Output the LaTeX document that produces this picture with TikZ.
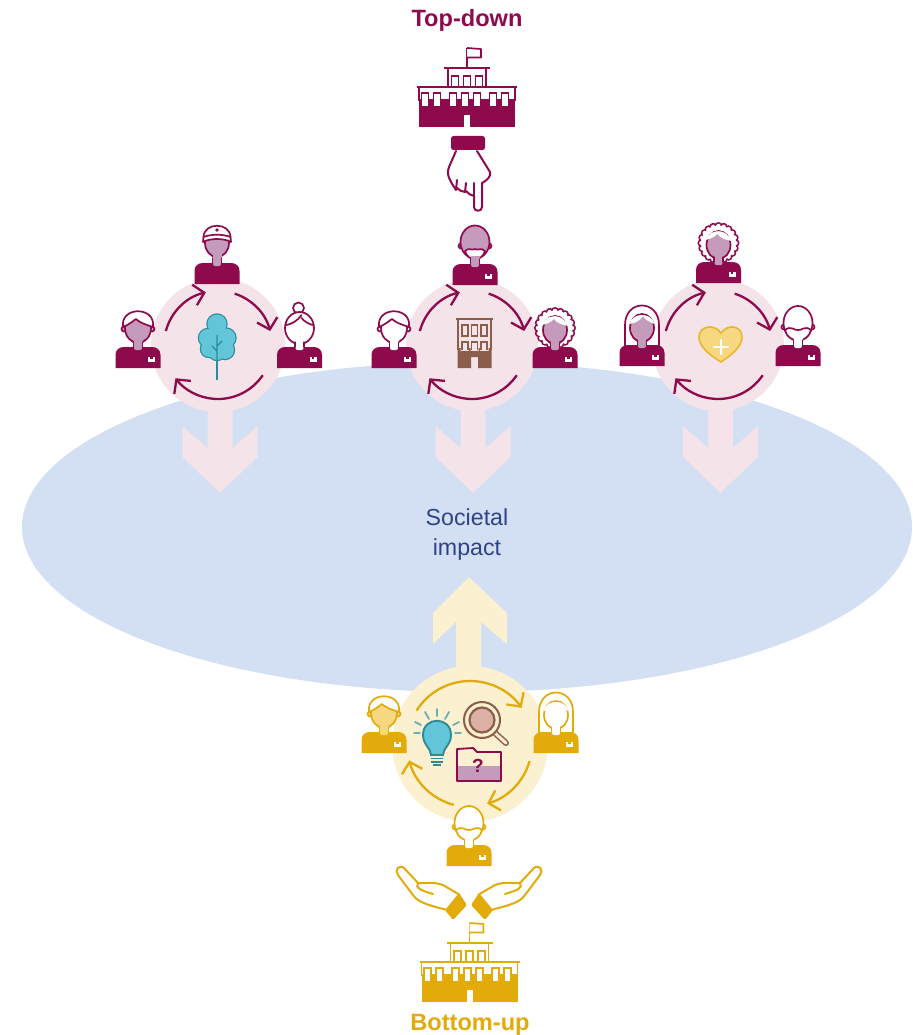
\documentclass[tikz,border=0pt]{standalone}
\usepackage{fontspec}
\setmainfont{Liberation Sans}
\usetikzlibrary{arrows.meta,calc}
\definecolor{mag}{HTML}{8F0A4D}
\definecolor{magh}{HTML}{C49BBB}
\definecolor{pinkc}{HTML}{F5E3EA}
\definecolor{creamc}{HTML}{FBF0D0}
\definecolor{yel}{HTML}{E3AB0A}
\definecolor{yelh}{HTML}{F5D87F}
\definecolor{blueell}{HTML}{D3DFF2}
\definecolor{navy}{HTML}{2F4488}
\definecolor{brownb}{HTML}{8B5E4B}
\definecolor{teal}{HTML}{62C6D8}
\definecolor{teald}{HTML}{2E8B95}
\definecolor{lens}{HTML}{DDB0A5}
\tikzset{
  cyc/.style={line width=2.3pt,-{Straight Barb[length=10pt,width=21pt,line width=2.3pt]}},
  ln/.style={line width=1.7pt,line join=round,line cap=round},
}
% person: #1 x, #2 y, #3 main colour, #4 head fill, #5 hair code
\newcommand{\person}[5]{%
  \begin{scope}[shift={(#1,#2)}]
    #5
    \fill[#4] (-4.5,-29) rectangle (4.5,-20);
    \draw[ln,#3,line width=1.2pt] (-4.5,-26) -- (-4.5,-20) (4.5,-26) -- (4.5,-20);
    \fill[#3] (-22.5,0) -- (-22.5,-13) .. controls (-22.5,-18) and (-19,-21) .. (-14,-21) -- (14,-21) .. controls (19,-21) and (22.5,-18) .. (22.5,-13) -- (22.5,0) -- cycle;
    \fill[#4,rounded corners=2pt] (-4,-22) -- (-4,-18) -- (4,-18) -- (4,-22) -- cycle;
  \end{scope}}
\newcommand{\badge}[3]{%
  \begin{scope}[shift={(#1,#2)}]
    \fill[white] (10,-11) rectangle (17,-6.5);
    \fill[#3] (12.2,-11.2) rectangle (14.8,-9.3);
  \end{scope}}
\newcommand{\ears}[2]{\draw[ln,#1,fill=#2] (-14,-39) circle (2.5) (14,-39) circle (2.5);}
\newcommand{\hairSide}[2]{\ears{#1}{#2}\draw[ln,#1,fill=#2] (0,-40) ellipse[x radius=13,y radius=15];
  \draw[ln,#1,fill=white] (-15,-41) .. controls (-18,-62) and (18,-62) .. (15,-41) .. controls (9,-43) and (2,-45) .. (-2,-49) .. controls (-6,-46) and (-10,-43) .. (-15,-41) -- cycle;}
\newcommand{\hairCap}[2]{\draw[ln,#1,fill=#2] (0,-41) ellipse[x radius=12,y radius=14];
  \draw[ln,#1,fill=white] (-14,-42) -- (-13.5,-47) .. controls (-13,-62) and (13,-62) .. (13.5,-47) -- (14,-42) .. controls (7,-46) and (-7,-46) .. (-14,-42) -- cycle;
  \draw[ln,#1] (-13.5,-47) .. controls (-6,-50) and (6,-50) .. (13.5,-47);
  \fill[#1] (0,-54) circle (1.8);}
\newcommand{\hairBun}[2]{\draw[ln,#1,fill=white] (-1,-60) circle (5.5);
  \draw[ln,#1,fill=white] (0,-40) ellipse[x radius=14.5,y radius=16];
  \draw[ln,#1] (-13,-43) .. controls (-8,-44) and (-2,-47) .. (2,-53) (2,-50) .. controls (5,-46) and (10,-44) .. (13,-43);}
\newcommand{\hairBeardBald}[2]{\ears{#1}{#2}\draw[ln,#1,fill=#2] (0,-43) ellipse[x radius=14.5,y radius=16.5];
  \draw[ln,#1,fill=white] (-10,-34) .. controls (-6,-38) and (-3,-34) .. (0,-36) .. controls (3,-34) and (6,-38) .. (10,-34) .. controls (7,-23) and (-7,-23) .. (-10,-34) -- cycle;}
\newcommand{\hairBeardWhite}[2]{\ears{#1}{#2}\draw[ln,#1,fill=white] (0,-43) ellipse[x radius=14.5,y radius=17];
  \draw[ln,#1,fill=white] (-13,-36) .. controls (-7,-41) and (-3,-35) .. (0,-36) .. controls (3,-35) and (7,-41) .. (13,-36) .. controls (10,-22) and (-10,-22) .. (-13,-36) -- cycle;}
\newcommand{\hairCurly}[2]{%
  \foreach \a in {0,18,...,342}{\draw[line width=1.5pt,#1,fill=white] ($(0,-40)+(\a:17)$) circle (3.2);}
  \fill[white] (0,-40) circle (17.5);
  \draw[ln,#1,fill=#2] (0,-38) ellipse[x radius=12,y radius=14];
  \fill[white] (-13,-43) .. controls (-8,-55) and (8,-55) .. (13,-42) .. controls (7,-43) and (2,-45) .. (-1,-49) .. controls (-4,-46) and (-8,-44) .. (-13,-43) -- cycle;}
\newcommand{\hairLong}[2]{\draw[ln,#1,fill=white] (-17,-18) -- (-17,-41) .. controls (-17,-67) and (17,-67) .. (17,-41) -- (17,-18) -- cycle;
  \draw[ln,#1,fill=#2] (0,-38) ellipse[x radius=12,y radius=14];
  \fill[white] (-12.5,-42) .. controls (-7,-43) and (-2,-45) .. (1,-50) .. controls (3,-46) and (8,-44) .. (12.5,-42) .. controls (10,-54) and (-10,-54) .. (-12.5,-42) -- cycle;}
% building: #1 x, #2 y, #3 colour
\newcommand{\building}[3]{%
  \begin{scope}[shift={(#1,#2)}]
    \fill[#3] (-48,12) rectangle (48,40);
    \draw[#3,line width=1.5pt] (-48,0) -- (-48,14) (48,0) -- (48,14);
    \foreach \wx in {-42,-30,-14,-2,10,26,38}{
      \fill[white] (\wx-3.5,6) rectangle (\wx+3.5,19);
      \draw[#3,line width=1.2pt] (\wx-3.5,19) -- (\wx-3.5,6) -- (\wx+3.5,6) -- (\wx+3.5,19);}
    \fill[white] (-3,28) rectangle (3,40);
    \draw[#3,line width=2pt] (-50,0) -- (50,0);
    \draw[#3,line width=1.7pt] (-19,0) -- (-19,-19) (19,0) -- (19,-19);
    \draw[#3,line width=1.9pt] (-23,-19) -- (23,-19);
    \foreach \wx in {-12,0,12}{\draw[#3,line width=1.6pt] (\wx-3.5,0) -- (\wx-3.5,-11) -- (\wx+3.5,-11) -- (\wx+3.5,0);}
    \draw[#3,line width=1.7pt] (0,-19) -- (0,-39);
    \draw[#3,line width=1.7pt,fill=white,line join=round] (0,-39) -- (14,-38) -- (14,-29.5) -- (0,-29.5);
  \end{scope}}
\newcommand{\hand}{%
  \draw[yel,line width=2pt,line join=round,fill=white] (460,895) -- (443,885) .. controls (432,881) and (425,884) .. (418,883) -- (404,868) .. controls (399,864) and (394,870) .. (398,875) -- (413,895) .. controls (418,903) and (432,906) .. (447,910);
  \draw[yel,line width=2pt,line cap=round] (418,883) .. controls (415,888) and (420,890) .. (433,894);
  \fill[yel,rounded corners=1.5pt] (459,893) -- (467,905) -- (453,920) -- (445,910) -- cycle;}
\newcommand{\darrow}[1]{\fill[pinkc,shift={(#1,0)}] (-12.5,400) -- (12.5,400) -- (12.5,448) -- (37.5,426) -- (37.5,457) -- (0,493) -- (-37.5,457) -- (-37.5,426) -- (-12.5,448) -- cycle;}
\newcommand{\cyclearrows}[4]{% x y r colour
  \draw[cyc,#4] ($(#1,#2)+(195:#3)$) arc[start angle=195,end angle=257,radius=#3];
  \draw[cyc,#4] ($(#1,#2)+(288:#3)$) arc[start angle=288,end angle=345,radius=#3];
  \draw[cyc,#4] ($(#1,#2)+(34:#3)$) arc[start angle=34,end angle=142,radius=#3];}
\begin{document}
\begin{tikzpicture}[x=1pt,y=-1pt]
\useasboundingbox (0,0) rectangle (912,1035);
% ellipse
\fill[blueell] (467,527) ellipse[x radius=445,y radius=165];
% down arrows and circles
\darrow{220}\darrow{473}\darrow{720.5}
\fill[pinkc] (218,345) circle (67);
\fill[pinkc] (472,345) circle (66);
\fill[pinkc] (718,345) circle (66);
% up arrow
\fill[creamc] (456,680) -- (456,622) -- (433,644) -- (433,613) -- (469,577) -- (507,613) -- (507,644) -- (481,622) -- (481,680) -- cycle;
\fill[creamc] (470,744) circle (78);
% arrows
\cyclearrows{218}{345}{54}{mag}
\cyclearrows{472}{345}{54}{mag}
\cyclearrows{718}{345}{54}{mag}
\draw[cyc,yel] ($(470,744)+(212:63)$) arc[start angle=212,end angle=325,radius=63];
\draw[cyc,yel] ($(470,744)+(16:62)$) arc[start angle=16,end angle=74,radius=62];
\draw[cyc,yel] ($(470,744)+(105:63)$) arc[start angle=105,end angle=165,radius=63];
% titles
\node[font=\bfseries\fontsize{23.6}{25}\selectfont,text=mag] (top) at (467,20.5) {Top-down};
\node[font=\bfseries\fontsize{23.6}{25}\selectfont,text=yel] (bot) at (470,1025) {Bottom-up};
\node[font=\fontsize{23.2}{30}\selectfont,text=navy,align=center] (imp) at (467,534) {Societal\\impact};
% buildings
\building{467}{87}{mag}
\building{469.5}{962}{yel}
% pointing hand
\fill[mag,rounded corners=2.5pt] (451,136) rectangle (485,150);
\draw[mag,line width=2pt,line join=round,line cap=round,fill=white] (456,151) -- (449,167) .. controls (447,172) and (448,176) .. (450,180) .. controls (452,184) and (454,187) .. (456,190) -- (457,180) (457,188) .. controls (459,191) and (462,191) .. (465,192) -- (466,183) (466,191) .. controls (468,194) and (471,195) .. (474,196) -- (474,207) .. controls (474,212) and (482,212) .. (482,207) -- (482,183) .. controls (488,180) and (491,176) .. (490,172) -- (477,151);
\draw[mag,line width=2pt,line cap=round] (474,196) -- (474,183);
% hands
\hand
\begin{scope}[xscale=-1,xshift=-938pt]\hand\end{scope}
% persons group 1
\person{138}{368}{mag}{magh}{\hairSide{mag}{magh}}\badge{138}{368}{mag}
\person{217}{284}{mag}{magh}{\hairCap{mag}{magh}}
\person{299.5}{368}{mag}{white}{\hairBun{mag}{white}}\badge{299.5}{368}{mag}
% group 2
\person{394}{368}{mag}{white}{\hairSide{mag}{white}}\badge{394}{368}{mag}
\person{475}{285}{mag}{magh}{\hairBeardBald{mag}{magh}}\badge{475}{285}{mag}
\person{555}{368}{mag}{magh}{\hairCurly{mag}{magh}}\badge{555}{368}{mag}
% group 3
\person{642}{366}{mag}{magh}{\hairLong{mag}{magh}}\badge{642}{366}{mag}
\person{718.5}{283}{mag}{magh}{\hairCurly{mag}{magh}}\badge{718.5}{283}{mag}
\person{798}{366}{mag}{white}{\hairBeardWhite{mag}{white}}\badge{798}{366}{mag}
% bottom group
\person{384}{753}{yel}{yelh}{\hairSide{yel}{yelh}}\badge{384}{753}{yel}
\person{556}{753}{yel}{white}{\hairLong{yel}{white}}\badge{556}{753}{yel}
\person{469}{866}{yel}{white}{\hairBeardWhite{yel}{white}}\badge{469}{866}{yel}
% tree
\draw[teald,line width=2pt] (217,345) -- (217,380);
\draw[teald,line width=2.4pt] (217,324) circle (9.5) (208,338) circle (9) (226,338) circle (9.5) (209,349) circle (8) (225,350) circle (9) (217,352) circle (8);
\fill[teal] (217,324) circle (9.5) (208,338) circle (9) (226,338) circle (9.5) (209,349) circle (8) (225,350) circle (9) (217,352) circle (8) (217,340) circle (12);
\draw[teald,line width=1.3pt] (217,335) -- (217,362) (212,346) -- (217,351) (222,341) -- (217,346);
% centre building
\begin{scope}[brownb]
\draw[line width=1.5pt] (456,319) -- (493,319);
\draw[line width=1.5pt] (458,319) -- (458,350) (491,319) -- (491,350);
\foreach \wx in {465,474.5,484}{\draw[line width=1.3pt] (\wx-3,325) rectangle (\wx+3,336);
  \draw[line width=1.3pt] (\wx-3,350) -- (\wx-3,342) -- (\wx+3,342) -- (\wx+3,350);}
\fill (457.5,348) -- (460.5,348) -- (460.5,351) -- (469,351) -- (469,348) -- (470.5,348) -- (470.5,351) -- (478.5,351) -- (478.5,348) -- (480,348) -- (480,351) -- (488.5,351) -- (488.5,348) -- (491.5,348) -- (491.5,368) -- (478,368) -- (478,357) -- (471,357) -- (471,368) -- (457.5,368) -- cycle;
\end{scope}
% heart
\draw[yel!85!white,line width=1.6pt,fill=yelh] (721,362) .. controls (708,354) and (699,346) .. (699,337) .. controls (699,326) and (714,323) .. (721,333) .. controls (728,323) and (742,326) .. (742,337) .. controls (742,346) and (733,354) .. (721,362) -- cycle;
\draw[white,line width=2.4pt,line cap=round] (721,340) -- (721,354) (714,347) -- (728,347);
% magnifier
\draw[brownb,line width=6pt,line cap=round] (495,733) -- (506,743);
\draw[creamc,line width=3pt,line cap=round] (495,733) -- (506,743);
\draw[brownb,line width=2pt,fill=creamc] (482,720) circle (18);
\draw[brownb,line width=2.2pt,fill=lens] (482,720) circle (12.5);
% bulb
\draw[teald,line width=1.9pt,fill=teal] (431,755) .. controls (431,748) and (423,745) .. (423,735) .. controls (423,716) and (451,716) .. (451,735) .. controls (451,745) and (443,748) .. (443,755) -- cycle;
\draw[teald,line width=1.7pt] (431,758.5) -- (443,758.5) (431,762) -- (443,762) (433,765) -- (441,765);
\draw[teald!70!white,line width=1.8pt,line cap=round] (437,709) -- (437,716) (425,712) -- (429,719) (449,712) -- (445,719) (415,722) -- (421,725) (459,722) -- (453,725) (414,733) -- (420,733) (455,733) -- (461,733);
% folder
\fill[magh] (457,766) rectangle (501,781);
\draw[mag,line width=1.8pt,line join=round] (457,749) -- (473,748) -- (477,752) -- (501,752) -- (501,781) -- (457,781) -- cycle;
\node[font=\bfseries\fontsize{19}{20}\selectfont,text=mag] (q) at (478,766) {?};
\end{tikzpicture}
\end{document}
